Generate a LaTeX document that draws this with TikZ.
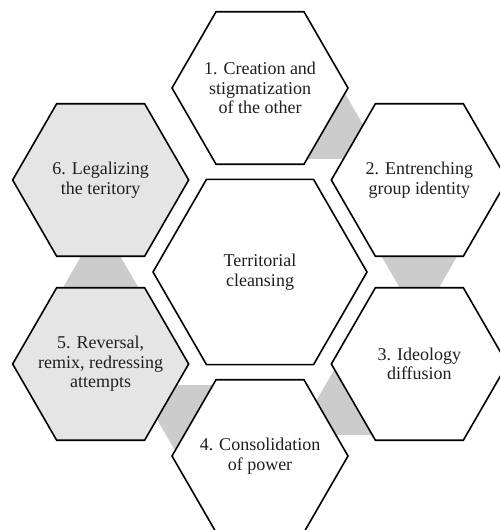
\documentclass[tikz,border=0pt]{standalone}
\usepackage{fontspec}
\setmainfont{Liberation Serif}
\usetikzlibrary{shapes.geometric,calc}
\begin{document}
\begin{tikzpicture}[x=1pt,y=1pt,
  hexa/.style={regular polygon, regular polygon sides=6, draw=black, line width=1.6pt, inner sep=0pt, outer sep=0pt, fill=white},
  ringhex/.style={hexa, minimum size=176pt},
  shadedhex/.style={ringhex, fill=black!10},
  centrehex/.style={hexa, minimum size=214pt},
  conn/.style={fill=black!20, draw=none},
  lbl/.style={align=center, font=\fontsize{18}{19.5}\selectfont, text=black!88}]
\useasboundingbox (0,0) rectangle (500,530);
\clip (0,0) rectangle (500,530);
\coordinate (C) at (260,258);
% connectors (behind)
\foreach \a in {90,30,-30,-90,-150}{
  \begin{scope}[shift={(C)}, shift={(\a:184)}, rotate=\a-120]
    \fill[conn] (60,-47.2) -- (124,-10.3) -- (124,10.3) -- (60,47.2) -- cycle;
  \end{scope}
}
% hexagons
\node[centrehex] (c) at (C) {};
\node[ringhex] (h1) at ($(C)+(90:184)$) {};
\node[ringhex] (h2) at ($(C)+(30:184)$) {};
\node[ringhex] (h3) at ($(C)+(-30:184)$) {};
\node[ringhex] (h4) at ($(C)+(-90:184)$) {};
\node[shadedhex] (h5) at ($(C)+(-150:184)$) {};
\node[shadedhex] (h6) at ($(C)+(150:184)$) {};
% labels
\node[lbl] (tc) at (c) {Territorial\\cleansing};
\node[lbl] (t1) at (h1) {1. Creation and\\stigmatization\\of the other};
\node[lbl] (t2) at (h2) {2. Entrenching\\group identity};
\node[lbl] (t3) at (h3) {3. Ideology\\diffusion};
\node[lbl] (t4) at (h4) {4. Consolidation\\of power};
\node[lbl] (t5) at (h5) {5. Reversal,\\remix, redressing\\attempts};
\node[lbl] (t6) at (h6) {6. Legalizing\\the teritory};
\end{tikzpicture}
\end{document}
